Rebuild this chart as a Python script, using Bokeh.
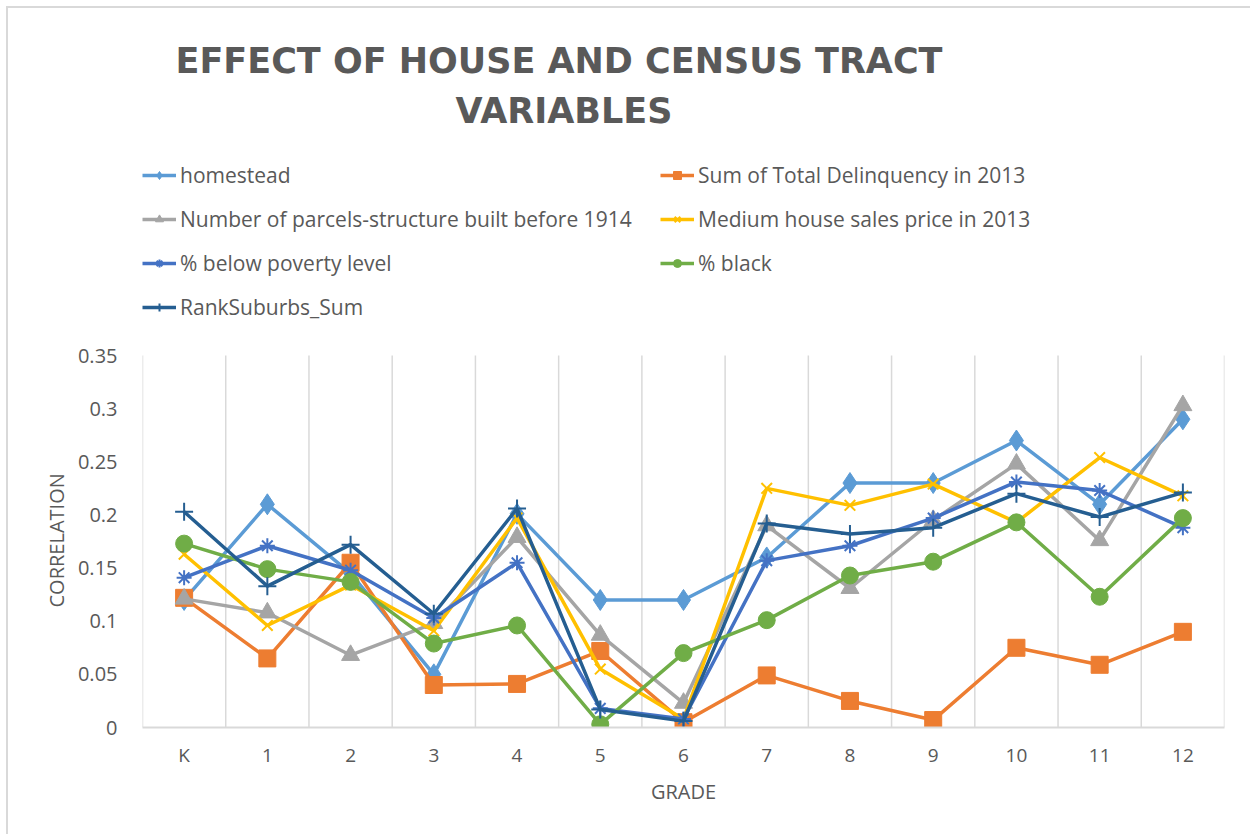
from bokeh.plotting import figure
from bokeh.models import (Range1d, FixedTicker, NumeralTickFormatter, Legend, LegendItem, Label,
                          Title)
from bokeh.embed import file_html
from bokeh.resources import INLINE

grades = ["K", "1", "2", "3", "4", "5", "6", "7", "8", "9", "10", "11", "12"]

homestead = [0.120, 0.210, 0.145, 0.050, 0.201, 0.120, 0.120, 0.160, 0.230, 0.230, 0.270, 0.210, 0.290]
delinquency = [0.122, 0.065, 0.155, 0.040, 0.041, 0.072, 0.005, 0.049, 0.025, 0.007, 0.075, 0.059, 0.090]
parcels_1914 = [0.121, 0.108, 0.068, 0.098, 0.179, 0.087, 0.023, 0.190, 0.131, 0.195, 0.248, 0.176, 0.303]
house_price = [0.163, 0.096, 0.134, 0.091, 0.197, 0.055, 0.008, 0.225, 0.209, 0.229, 0.193, 0.254, 0.218]
poverty = [0.141, 0.171, 0.148, 0.103, 0.155, 0.018, 0.008, 0.157, 0.171, 0.197, 0.231, 0.223, 0.188]
black = [0.173, 0.149, 0.137, 0.079, 0.096, 0.003, 0.070, 0.101, 0.143, 0.156, 0.193, 0.123, 0.197]
rank_suburbs = [0.203, 0.133, 0.172, 0.107, 0.206, 0.017, 0.006, 0.192, 0.182, 0.188, 0.220, 0.198, 0.221]

series_names = ["homestead", "Sum of Total Delinquency in 2013",
                "Number of parcels-structure built before 1914", "Medium house sales price in 2013",
                "% below poverty level", "% black", "RankSuburbs_Sum"]
series_values = [homestead, delinquency, parcels_1914, house_price, poverty, black, rank_suburbs]
colors = ["#5B9BD5", "#ED7D31", "#A5A5A5", "#FFC000", "#4472C4", "#70AD47", "#255E91"]
markers = ["diamond", "square", "triangle", "x", "asterisk", "circle", "cross"]
msizes = [21, 17, 18, 15, 15, 17, 18]

y_ticks = [0, 0.05, 0.1, 0.15, 0.2, 0.25, 0.3, 0.35]
title_lines = ["EFFECT OF HOUSE AND CENSUS TRACT", "VARIABLES"]

TEXT = "#595959"
GRID = "#D9D9D9"

# layout (pixels)
W, H = 1244, 828
LEFT, RIGHT, BOTTOM = 134, 28, 109
FRAME_H = H - BOTTOM           # frame runs to the top of the canvas
PLOT_H = 372                   # pixel height of the 0..0.35 data area
y_top = y_ticks[-1] * FRAME_H / PLOT_H

xs = list(range(len(grades)))

p = figure(width=W, height=H, output_backend="svg", toolbar_location=None,
           x_range=Range1d(-0.5, len(grades) - 0.5), y_range=Range1d(0, y_top),
           min_border_left=LEFT, min_border_right=RIGHT, min_border_top=0,
           min_border_bottom=BOTTOM)
p.styles = {"margin-left": "6px", "margin-top": "6px",
            "border-left": "2px solid #D9D9D9", "border-top": "2px solid #D9D9D9"}
p.outline_line_color = None
p.background_fill_color = "white"
p.border_fill_color = "white"

# axes
p.xaxis.ticker = FixedTicker(ticks=xs)
p.xaxis.major_label_overrides = {i: g for i, g in enumerate(grades)}
p.xaxis.axis_line_color = GRID
p.xaxis.axis_line_width = 2
p.xaxis.major_tick_line_color = None
p.xaxis.minor_tick_line_color = None
p.xaxis.major_label_text_font = "Open Sans"
p.xaxis.major_label_text_font_size = "19px"
p.xaxis.major_label_text_color = TEXT
p.xaxis.major_label_standoff = 8
p.xaxis.axis_label = "GRADE"
p.xaxis.axis_label_text_font = "Open Sans"
p.xaxis.axis_label_text_font_size = "20px"
p.xaxis.axis_label_text_font_style = "normal"
p.xaxis.axis_label_text_color = TEXT
p.xaxis.axis_label_standoff = 7

p.yaxis.ticker = FixedTicker(ticks=y_ticks)
p.yaxis.bounds = (y_ticks[0], y_ticks[-1])
p.yaxis.formatter = NumeralTickFormatter(format="0.[00]")
p.yaxis.axis_line_color = None
p.yaxis.major_tick_line_color = None
p.yaxis.minor_tick_line_color = None
p.yaxis.major_label_text_font = "Open Sans"
p.yaxis.major_label_text_font_size = "20px"
p.yaxis.major_label_text_color = TEXT
p.yaxis.major_label_standoff = 19

# y axis title, placed alongside the 0..0.35 data area
ytitle = Title(text="CORRELATION", align="left", offset=120, standoff=9,
               text_font="Open Sans", text_font_size="20px", text_font_style="normal",
               text_color=TEXT)
p.add_layout(ytitle, "left")

# vertical grid lines at category boundaries, limited to the data area
p.xgrid.grid_line_color = None
p.ygrid.grid_line_color = None
bounds_x = [i - 0.5 for i in range(len(grades) + 1)]
p.segment(x0=bounds_x, y0=[y_ticks[0]] * len(bounds_x), x1=bounds_x,
          y1=[y_ticks[-1]] * len(bounds_x), line_color=GRID, line_width=1.5)

items = []
for name, vals, col, mk, ms in zip(series_names, series_values, colors, markers, msizes):
    ln = p.line(xs, vals, line_color=col, line_width=3.5)
    if mk in ("x", "asterisk", "cross"):
        sc = p.scatter(xs, vals, marker=mk, size=ms, line_color=col, line_width=2, fill_color=col)
    else:
        sc = p.scatter(xs, vals, marker=mk, size=ms, line_color=col, fill_color=col)
    items.append(LegendItem(label=name, renderers=[ln, sc]))

legend = Legend(items=items, orientation="horizontal", ncols=2,
                location=(0, 406),
                label_text_font="Open Sans", label_text_font_size="21px",
                label_text_color=TEXT, glyph_width=34, glyph_height=20,
                label_height=20, label_width=464, spacing=16, padding=0, margin=0,
                label_standoff=4, border_line_color=None, background_fill_alpha=0)
p.add_layout(legend, "center")

t1 = Label(x=33, y=FRAME_H - 52, x_units="screen", y_units="screen",
           text=title_lines[0], text_font="DejaVu Sans",
           text_font_style="bold", text_font_size="35px", text_color=TEXT,
           text_align="left", text_baseline="middle")
t2 = Label(x=313, y=FRAME_H - 102, x_units="screen", y_units="screen",
           text=title_lines[1], text_font="DejaVu Sans",
           text_font_style="bold", text_font_size="35px", text_color=TEXT,
           text_align="left", text_baseline="middle")
p.add_layout(t1)
p.add_layout(t2)

open("out.html", "w").write(file_html(p, INLINE))
